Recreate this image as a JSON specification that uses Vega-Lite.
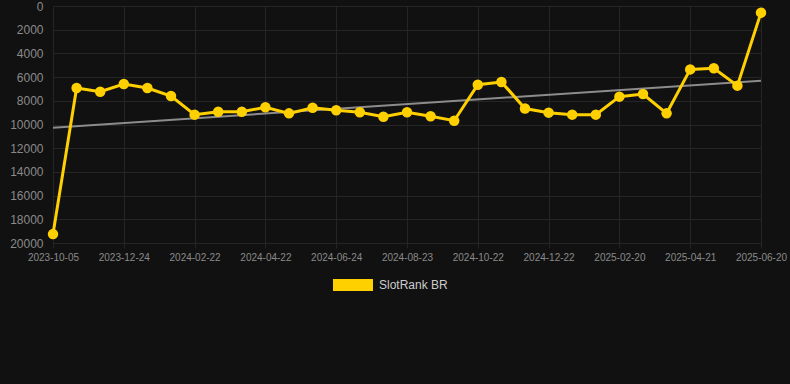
{
  "$schema": "https://vega.github.io/schema/vega-lite/v6.json",
  "width": 708,
  "height": 237,
  "autosize": {"type": "none"},
  "padding": {"left": 53, "top": 6, "right": 29, "bottom": 141},
  "background": "#111111",
  "config": {
    "view": {"stroke": null},
    "font": "Liberation Sans"
  },
  "datasets": {
    "rank": [
      {"date": "2023-10-05", "rank": 19250, "series": "SlotRank BR"},
      {"date": "2023-10-31", "rank": 6920, "series": "SlotRank BR"},
      {"date": "2023-11-28", "rank": 7230, "series": "SlotRank BR"},
      {"date": "2023-12-24", "rank": 6580, "series": "SlotRank BR"},
      {"date": "2024-01-13", "rank": 6920, "series": "SlotRank BR"},
      {"date": "2024-02-02", "rank": 7600, "series": "SlotRank BR"},
      {"date": "2024-02-22", "rank": 9170, "series": "SlotRank BR"},
      {"date": "2024-03-13", "rank": 8920, "series": "SlotRank BR"},
      {"date": "2024-04-02", "rank": 8920, "series": "SlotRank BR"},
      {"date": "2024-04-22", "rank": 8550, "series": "SlotRank BR"},
      {"date": "2024-05-13", "rank": 9060, "series": "SlotRank BR"},
      {"date": "2024-06-03", "rank": 8580, "series": "SlotRank BR"},
      {"date": "2024-06-24", "rank": 8800, "series": "SlotRank BR"},
      {"date": "2024-07-14", "rank": 8970, "series": "SlotRank BR"},
      {"date": "2024-08-03", "rank": 9340, "series": "SlotRank BR"},
      {"date": "2024-08-23", "rank": 8970, "series": "SlotRank BR"},
      {"date": "2024-09-12", "rank": 9310, "series": "SlotRank BR"},
      {"date": "2024-10-02", "rank": 9680, "series": "SlotRank BR"},
      {"date": "2024-10-22", "rank": 6640, "series": "SlotRank BR"},
      {"date": "2024-11-11", "rank": 6410, "series": "SlotRank BR"},
      {"date": "2024-12-02", "rank": 8650, "series": "SlotRank BR"},
      {"date": "2024-12-22", "rank": 9000, "series": "SlotRank BR"},
      {"date": "2025-01-11", "rank": 9170, "series": "SlotRank BR"},
      {"date": "2025-01-31", "rank": 9170, "series": "SlotRank BR"},
      {"date": "2025-02-20", "rank": 7650, "series": "SlotRank BR"},
      {"date": "2025-03-12", "rank": 7430, "series": "SlotRank BR"},
      {"date": "2025-04-01", "rank": 9060, "series": "SlotRank BR"},
      {"date": "2025-04-21", "rank": 5350, "series": "SlotRank BR"},
      {"date": "2025-05-11", "rank": 5260, "series": "SlotRank BR"},
      {"date": "2025-05-31", "rank": 6720, "series": "SlotRank BR"},
      {"date": "2025-06-20", "rank": 560, "series": "SlotRank BR"}
    ],
    "trend": [
      {"date": "2023-10-05", "rank": 10270},
      {"date": "2025-06-20", "rank": 6300}
    ]
  },
  "encoding": {
    "x": {
      "field": "date",
      "type": "ordinal",
      "sort": null,
      "scale": {"type": "point", "padding": 0, "domain": ["2023-10-05","2023-10-31","2023-11-28","2023-12-24","2024-01-13","2024-02-02","2024-02-22","2024-03-13","2024-04-02","2024-04-22","2024-05-13","2024-06-03","2024-06-24","2024-07-14","2024-08-03","2024-08-23","2024-09-12","2024-10-02","2024-10-22","2024-11-11","2024-12-02","2024-12-22","2025-01-11","2025-01-31","2025-02-20","2025-03-12","2025-04-01","2025-04-21","2025-05-11","2025-05-31","2025-06-20"]},
      "axis": {
        "title": null,
        "values": ["2023-10-05","2023-12-24","2024-02-22","2024-04-22","2024-06-24","2024-08-23","2024-10-22","2024-12-22","2025-02-20","2025-04-21","2025-06-20"],
        "labelAngle": 0,
        "labelFontSize": 10,
        "labelColor": "#8a8a8a",
        "labelPadding": 4,
        "grid": true,
        "gridColor": "#252525",
        "gridWidth": 1,
        "domain": false,
        "tickColor": "#252525",
        "tickSize": 5
      }
    },
    "y": {
      "field": "rank",
      "type": "quantitative",
      "scale": {"domain": [0, 20000], "reverse": true, "nice": false},
      "axis": {
        "title": null,
        "values": [0,2000,4000,6000,8000,10000,12000,14000,16000,18000,20000],
        "labelFontSize": 12,
        "labelColor": "#8a8a8a",
        "labelPadding": 10,
        "grid": true,
        "gridColor": "#252525",
        "gridWidth": 1,
        "domain": false,
        "ticks": false,
        "format": "d"
      }
    }
  },
  "layer": [
    {
      "data": {"name": "trend"},
      "mark": {"type": "line", "color": "#8c8c8c", "strokeWidth": 2},
      "encoding": {}
    },
    {
      "data": {"name": "rank"},
      "mark": {"type": "line", "strokeWidth": 3, "point": {"filled": true, "size": 110, "opacity": 1}},
      "encoding": {
        "color": {
          "field": "series",
          "type": "nominal",
          "scale": {"range": ["#FFD000"]},
          "legend": {
            "title": null,
            "orient": "none",
            "legendX": 280,
            "legendY": 259,
            "symbolType": "M-1,-0.3L1,-0.3L1,0.3L-1,0.3Z",
            "symbolSize": 1600,
            "symbolStrokeWidth": 0,
            "symbolFillColor": "#FFD000",
            "labelColor": "#cccccc",
            "labelFontSize": 12,
            "labelOffset": 6
          }
        }
      }
    }
  ]
}
